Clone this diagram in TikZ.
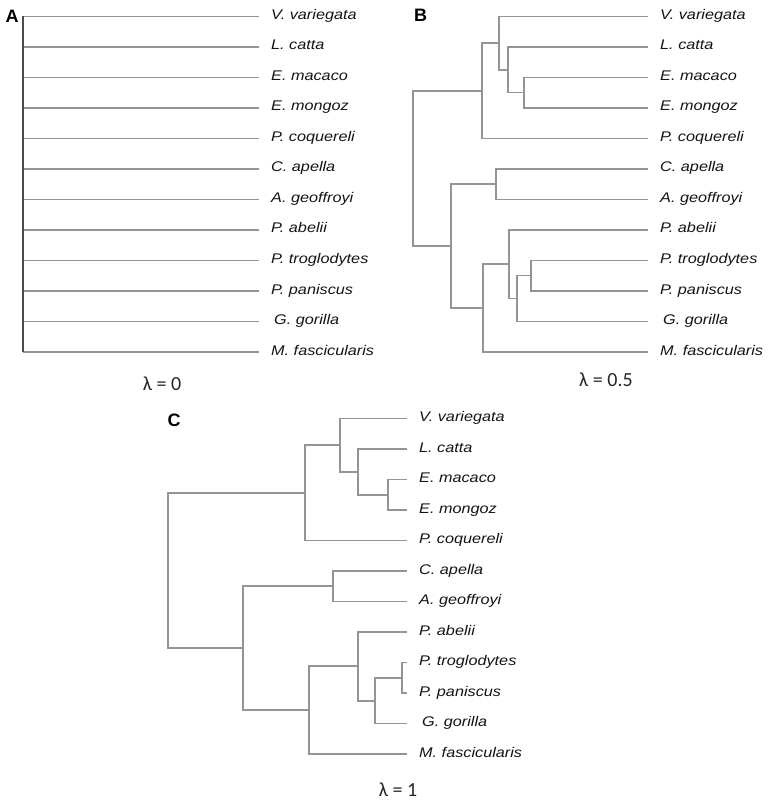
\documentclass[tikz,border=0pt]{standalone}
\usepackage{fontspec}
\setmainfont{Liberation Sans}
\newfontfamily\leaffont[FakeStretch=1.16]{Liberation Sans}
\newfontfamily\lamfont{Carlito}
\begin{document}
\begin{tikzpicture}[x=1pt,y=-1pt,
  branch/.style={draw=black!42,line width=1.8pt},
  axisA/.style={draw=black!70,line width=1.8pt},
  leaf/.style={anchor=base west,inner sep=0pt,font=\leaffont\itshape\fontsize{14}{16}\selectfont,text=black!92},
  panel/.style={anchor=base west,inner sep=0pt,font=\bfseries\fontsize{18}{20}\selectfont},
  lam/.style={anchor=base,inner sep=0pt,font=\lamfont\fontsize{20}{22}\selectfont,text=black!85}]
\useasboundingbox (0,0) rectangle (772,802);
% ---------- names ----------
\def\names{{"V. variegata","L. catta","E. macaco","E. mongoz","P. coquereli","C. apella","A. geoffroyi","P. abelii","P. troglodytes","P. paniscus","G. gorilla","M. fascicularis"}}
% ---------- Panel A ----------
\node[panel] (labA) at (5.5,23) {A};
\coordinate (Atop) at (23,16.5);
\coordinate (Abot) at (23,351.8);
\foreach \i in {0,...,11}{
  \pgfmathsetmacro{\yy}{16.5+30.5*\i}
  \pgfmathsetmacro{\nm}{\names[\i]}
  \coordinate (A\i) at (259,\yy);
  \pgfmathsetmacro{\dx}{ifthenelse(\i==10,3,0)}
  \node[leaf] (An\i) at (271+\dx,\yy+3) {\nm};
  \draw[branch] (Atop |- A\i) -- (A\i);
}
\draw[axisA] (Atop) -- (Abot);
\node[lam] (lamA) at (162,390) {λ = 0};
% ---------- Panel B ----------
\node[panel] (labB) at (414,21.7) {B};
\foreach \i in {0,...,11}{
  \pgfmathsetmacro{\yy}{16.5+30.5*\i}
  \pgfmathsetmacro{\nm}{\names[\i]}
  \coordinate (B\i) at (648,\yy);
  \pgfmathsetmacro{\dx}{ifthenelse(\i==10,3,0)}
  \node[leaf] (Bn\i) at (660+\dx,\yy+3) {\nm};
}
\coordinate (Bem)   at (524,92.6);
\coordinate (Ble)   at (508.3,69.8);
\coordinate (Bvl)   at (499.3,43.2);
\coordinate (Blem)  at (481.7,90.7);
\coordinate (Bnw)   at (496.3,184);
\coordinate (Bpan)  at (530.7,275.5);
\coordinate (Bhom)  at (516.7,298.4);
\coordinate (Bape)  at (509,264.1);
\coordinate (Bcat)  at (483.3,308);
\coordinate (Bant)  at (451,246);
\coordinate (Broot) at (413.3,168.3);
\draw[branch] (Bem) |- (B2) (Bem) |- (B3);
\draw[branch] (Ble) |- (B1) (Ble) |- (Bem);
\draw[branch] (Bvl) |- (B0) (Bvl) |- (Ble);
\draw[branch] (Blem) |- (Bvl) (Blem) |- (B4);
\draw[branch] (Bnw) |- (B5) (Bnw) |- (B6);
\draw[branch] (Bpan) |- (B8) (Bpan) |- (B9);
\draw[branch] (Bhom) |- (Bpan) (Bhom) |- (B10);
\draw[branch] (Bape) |- (B7) (Bape) |- (Bhom);
\draw[branch] (Bcat) |- (Bape) (Bcat) |- (B11);
\draw[branch] (Bant) |- (Bnw) (Bant) |- (Bcat);
\draw[branch] (Broot) |- (Blem) (Broot) |- (Bant);
\node[lam] (lamB) at (606,386.5) {λ = 0.5};
% ---------- Panel C ----------
\node[panel] (labC) at (167.5,426.7) {C};
\foreach \i in {0,...,11}{
  \pgfmathsetmacro{\yy}{418.5+30.5*\i}
  \pgfmathsetmacro{\nm}{\names[\i]}
  \coordinate (C\i) at (406.7,\yy);
  \pgfmathsetmacro{\dx}{ifthenelse(\i==10,3,0)}
  \node[leaf] (Cn\i) at (419+\dx,\yy+3) {\nm};
}
\coordinate (Cem)   at (388.3,494.75);
\coordinate (Cle)   at (358.3,471.9);
\coordinate (Cvl)   at (340,445.2);
\coordinate (Clem)  at (305,492.9);
\coordinate (Cnw)   at (332.7,586.25);
\coordinate (Cpan)  at (401.7,677.75);
\coordinate (Chom)  at (375,700.6);
\coordinate (Cape)  at (358.3,666.3);
\coordinate (Ccat)  at (309.3,710.2);
\coordinate (Cant)  at (243.3,648.2);
\coordinate (Croot) at (168.3,570.6);
\draw[branch] (Cem) |- (C2) (Cem) |- (C3);
\draw[branch] (Cle) |- (C1) (Cle) |- (Cem);
\draw[branch] (Cvl) |- (C0) (Cvl) |- (Cle);
\draw[branch] (Clem) |- (Cvl) (Clem) |- (C4);
\draw[branch] (Cnw) |- (C5) (Cnw) |- (C6);
\draw[branch] (Cpan) |- (C8) (Cpan) |- (C9);
\draw[branch] (Chom) |- (Cpan) (Chom) |- (C10);
\draw[branch] (Cape) |- (C7) (Cape) |- (Chom);
\draw[branch] (Ccat) |- (Cape) (Ccat) |- (C11);
\draw[branch] (Cant) |- (Cnw) (Cant) |- (Ccat);
\draw[branch] (Croot) |- (Clem) (Croot) |- (Cant);
\node[lam] (lamC) at (398,796.5) {λ = 1};
\end{tikzpicture}
\end{document}
